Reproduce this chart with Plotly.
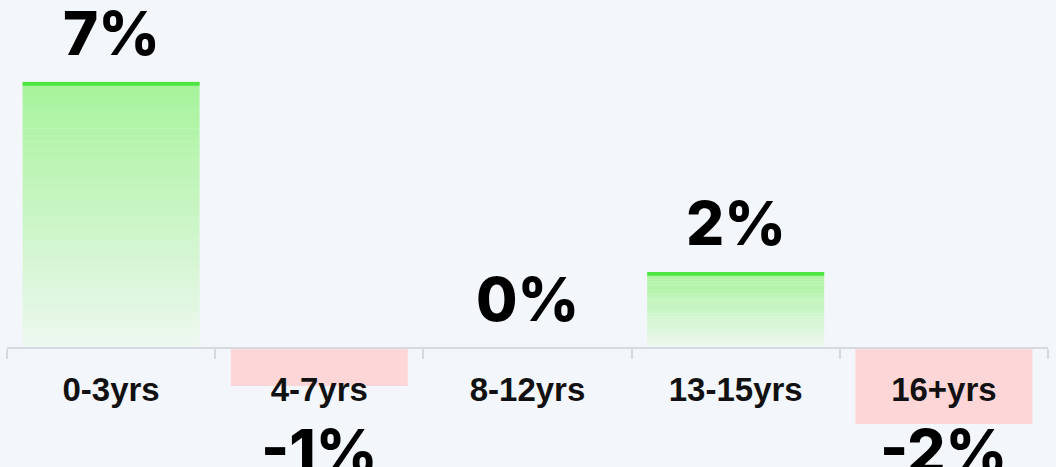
import plotly.graph_objects as go

categories = ["0-3yrs", "4-7yrs", "8-12yrs", "13-15yrs", "16+yrs"]
values = [7, -1, 0, 2, -2]
labels = ["7%", "-1%", "0%", "2%", "-2%"]

BG = "#f3f6fa"
TOP_COLOR = (166, 243, 154)
BOTTOM_COLOR = (238, 248, 240)
EDGE_COLOR = "#4de640"
NEG_COLOR = "#fdd7d7"
N_SEG = 40
EDGE_H = 0.1
BAR_W = 0.85

fig = go.Figure()

# gradient green bars (positive values) built from stacked segments
pos = [v if v > 0 else 0 for v in values]
for k in range(N_SEG):
    t = (k + 0.5) / N_SEG
    c = tuple(round(BOTTOM_COLOR[i] + (TOP_COLOR[i] - BOTTOM_COLOR[i]) * t) for i in range(3))
    fig.add_trace(go.Bar(
        x=categories,
        y=[p / N_SEG * 1.05 for p in pos],
        base=[p * k / N_SEG for p in pos],
        marker=dict(color="rgb(%d,%d,%d)" % c, line=dict(width=0)),
        width=BAR_W, hoverinfo="skip", showlegend=False,
    ))

# bright top edge of positive bars
fig.add_trace(go.Bar(
    x=categories,
    y=[EDGE_H if p > 0 else 0 for p in pos],
    base=[p - EDGE_H if p > 0 else 0 for p in pos],
    marker=dict(color=EDGE_COLOR, line=dict(width=0)),
    width=BAR_W, hoverinfo="skip", showlegend=False,
))

# negative bars
fig.add_trace(go.Bar(
    x=categories,
    y=[v if v < 0 else 0 for v in values],
    marker=dict(color=NEG_COLOR, line=dict(width=0)),
    width=BAR_W, hoverinfo="skip", showlegend=False,
))

LABEL_FONT = dict(family="Inter", size=60, color="#000000", weight=800)
for cat, v, lab in zip(categories, values, labels):
    if v >= 0:
        fig.add_annotation(x=cat, y=v, text=lab, showarrow=False,
                           yanchor="bottom", yshift=11, font=LABEL_FONT)
    else:
        fig.add_annotation(x=cat, y=min(v, -2), text=lab, showarrow=False,
                           yanchor="top", yshift=11, font=LABEL_FONT)

fig.update_layout(
    width=1056, height=467,
    margin=dict(l=7, r=8, t=0, b=0),
    paper_bgcolor=BG, plot_bgcolor=BG,
    barmode="overlay", bargap=0.15,
    xaxis=dict(
        type="category", range=[-0.5, 4.5],
        anchor="free", position=119 / 467,
        showline=True, linecolor="#d6d9de", linewidth=2,
        ticks="outside", tickson="boundaries", ticklen=10, tickwidth=2, tickcolor="#d6d9de",
        showgrid=False, zeroline=False,
        tickfont=dict(family="Liberation Sans", size=33, color="#111111", weight="bold"),
        ticklabelstandoff=12,
        fixedrange=True,
    ),
    yaxis=dict(range=[-119 / 38, 348 / 38], visible=False, fixedrange=True),
)

fig.write_html(
    "out.html",
    config={"displayModeBar": False},
    post_script="document.body.style.margin='0';document.body.style.background='%s';" % BG,
)
